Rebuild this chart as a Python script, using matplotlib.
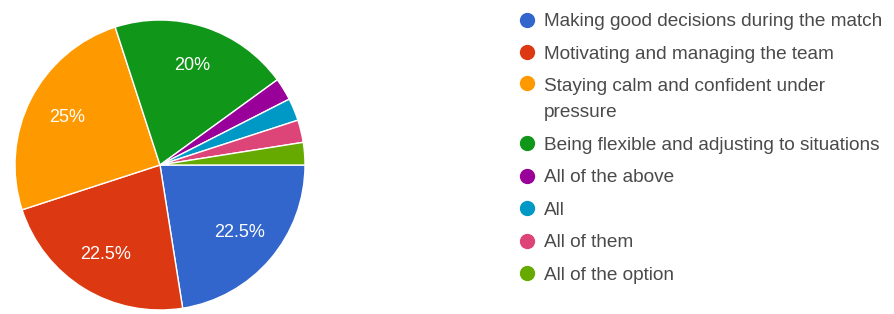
import matplotlib
matplotlib.use('Agg')
import numpy as np
import matplotlib.pyplot as plt
from matplotlib.lines import Line2D
from matplotlib.legend_handler import HandlerLine2D

plt.rcParams['font.family'] = ['Liberation Sans', 'DejaVu Sans']

# survey answers and their shares (%)
labels = [
    'Making good decisions during the match',
    'Motivating and managing the team',
    'Staying calm and confident under\npressure',
    'Being flexible and adjusting to situations',
    'All of the above',
    'All',
    'All of them',
    'All of the option',
]
shares = [22.5, 22.5, 25, 20, 2.5, 2.5, 2.5, 2.5]
colors = ['#3366cc', '#dc3912', '#ff9900', '#109618',
          '#990099', '#0099c6', '#dd4477', '#66aa00']

W, H = 895, 314
LINESPACING = 1.7


class FirstLineHandler(HandlerLine2D):
    """Put the marker next to the first line of a wrapped label."""

    def __init__(self, shift, **kw):
        super().__init__(**kw)
        self.shift = shift

    def create_artists(self, legend, orig_handle, xdescent, ydescent,
                       width, height, fontsize, trans):
        artists = super().create_artists(legend, orig_handle, xdescent,
                                         ydescent, width, height, fontsize,
                                         trans)
        for a in artists:
            a.set_ydata(np.asarray(a.get_ydata()) + self.shift * fontsize)
        return artists


fig = plt.figure(figsize=(W / 100, H / 100), dpi=100, facecolor='white')

# pie axes: centre (160, 165) px from top-left, radius ~145 px
r = 145
ax = fig.add_axes([(160 - r) / W, (H - 165 - r) / H, 2 * r / W, 2 * r / H])


def pct(v):
    return '{:g}%'.format(round(v, 1)) if v >= 5 else ''


wedges, texts, autotexts = ax.pie(
    shares, colors=colors, startangle=0, counterclock=False,
    autopct=pct, pctdistance=0.72,
    wedgeprops=dict(edgecolor='white', linewidth=1.0),
    textprops=dict(color='white', fontsize=13))
ax.set_xlim(-1, 1)
ax.set_ylim(-1, 1)
ax.set_aspect('equal')
ax.axis('off')

handles = [Line2D([], [], marker='o', linestyle='', markersize=10,
                  markerfacecolor=c, markeredgecolor=c) for c in colors]
hmap = {h: FirstLineHandler(0.5 * LINESPACING * (l.count('\n')))
        for h, l in zip(handles, labels) if '\n' in l}
leg = fig.legend(handles, labels, loc='upper left',
                 bbox_to_anchor=(517 / W, 1 - 13 / H),
                 frameon=False, borderpad=0, borderaxespad=0,
                 handlelength=1.0, handletextpad=0.4, labelspacing=0.8,
                 prop={'size': 13.7}, labelcolor='#4a4a4a',
                 handler_map=hmap)
for t in leg.get_texts():
    t.set_linespacing(LINESPACING)

fig.savefig('out.png', dpi=100, facecolor='white')
